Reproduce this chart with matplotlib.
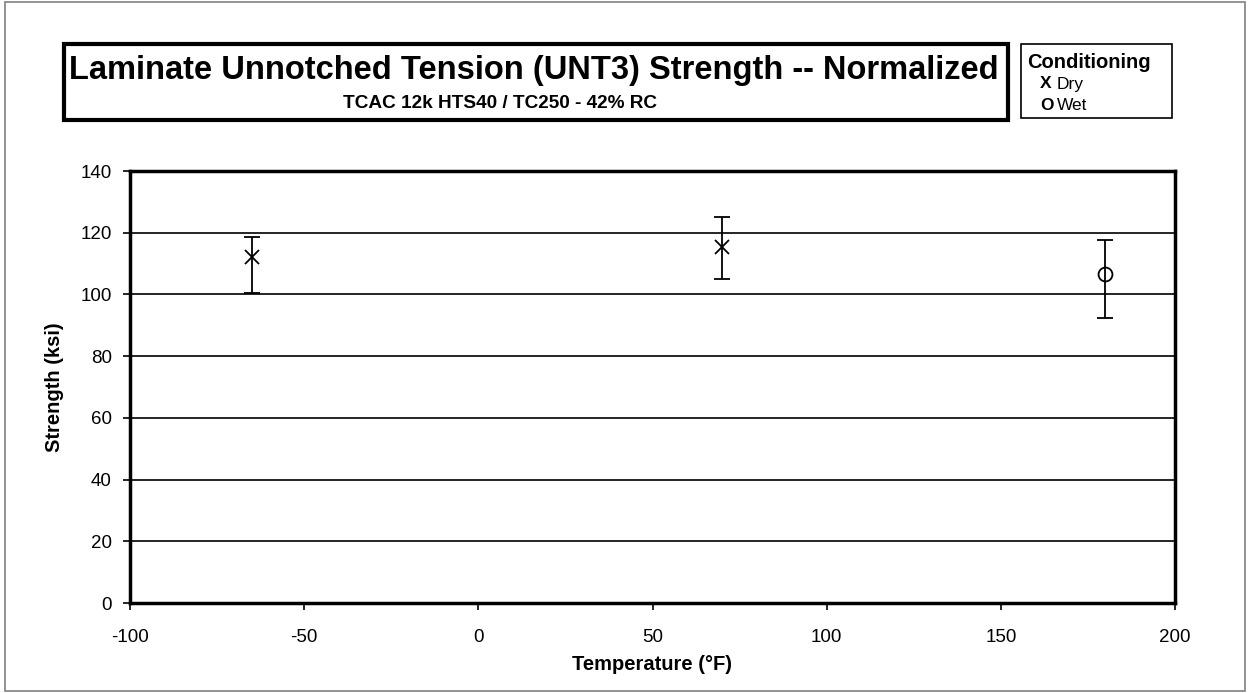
import matplotlib
matplotlib.use("Agg")
import matplotlib.pyplot as plt
from matplotlib.patches import Rectangle

plt.rcParams['font.family'] = ['Liberation Sans', 'DejaVu Sans']

# Data
dry_temp = [-65, 70]
dry_mean = [112.2, 115.4]
dry_max = [118.7, 125.1]
dry_min = [100.5, 105.0]

wet_temp = [180]
wet_mean = [106.6]
wet_max = [117.6]
wet_min = [92.2]

x_ticks = [-100, -50, 0, 50, 100, 150, 200]
y_ticks = [0, 20, 40, 60, 80, 100, 120, 140]

title = "Laminate Unnotched Tension (UNT3) Strength -- Normalized"
subtitle = "TCAC 12k HTS40 / TC250 - 42% RC"

W, H = 1249, 693
fig = plt.figure(figsize=(W / 100, H / 100), dpi=100)

def fx(px):
    return px / W

def fy(py):
    return 1 - py / H

# outer border
fig.patches.append(Rectangle((fx(5), fy(691)), fx(1245) - fx(5), fy(2) - fy(691),
                             transform=fig.transFigure, fill=False, ec='#808080', lw=1.2))

ax = fig.add_axes([fx(130), fy(603), fx(1175) - fx(130), fy(171) - fy(603)])
ax.set_xlim(-100, 200)
ax.set_ylim(0, 140)
ax.set_xticks(x_ticks)
ax.set_yticks(y_ticks)
ax.set_xticklabels([str(v) for v in x_ticks], fontsize=13.5)
ax.set_yticklabels([str(v) for v in y_ticks], fontsize=13.5)
ax.tick_params(direction='out', length=5, width=1.2, colors='black')
ax.tick_params(axis='x', pad=14)
ax.tick_params(axis='y', pad=8)
for s in ax.spines.values():
    s.set_linewidth(2.5)
    s.set_color('black')
ax.yaxis.grid(True, color='black', lw=1.2)
ax.set_axisbelow(True)

def errs(mean, lo, hi):
    return [[m - l for m, l in zip(mean, lo)], [h - m for m, h in zip(mean, hi)]]

ax.errorbar(dry_temp, dry_mean, yerr=errs(dry_mean, dry_min, dry_max), fmt='x',
            color='black', ms=10, mew=1.3, ecolor='black', elinewidth=1.3, capsize=6, capthick=1.3)
ax.errorbar(wet_temp, wet_mean, yerr=errs(wet_mean, wet_min, wet_max), fmt='o',
            mfc='none', mec='black', color='black', ms=10, mew=1.3, ecolor='black',
            elinewidth=1.3, capsize=6, capthick=1.3)

ax.set_xlabel("Temperature (°F)", fontsize=14.5, fontweight='bold', labelpad=6)
ax.set_ylabel("Strength (ksi)", fontsize=14.5, fontweight='bold', labelpad=12)

# title box
fig.patches.append(Rectangle((fx(64), fy(120)), fx(1008) - fx(64), fy(44) - fy(120),
                             transform=fig.transFigure, fill=False, ec='black', lw=3))
fig.text(fx(534), fy(70), title, fontsize=23.5, fontweight='bold', ha='center', va='center')
fig.text(fx(500), fy(103), subtitle, fontsize=13.7, fontweight='bold', ha='center', va='center')

# legend box
fig.patches.append(Rectangle((fx(1021), fy(118)), fx(1172) - fx(1021), fy(44) - fy(118),
                             transform=fig.transFigure, fill=False, ec='black', lw=1.2))
fig.text(fx(1027), fy(62), "Conditioning", fontsize=14.5, fontweight='bold', ha='left', va='center')
fig.text(fx(1040), fy(84), "X", fontsize=12.5, fontweight='bold', ha='left', va='center')
fig.text(fx(1057), fy(84), "Dry", fontsize=12.5, ha='left', va='center')
fig.text(fx(1040), fy(105), "O", fontsize=12.5, fontweight='bold', ha='left', va='center')
fig.text(fx(1057), fy(105), "Wet", fontsize=12.5, ha='left', va='center')

fig.savefig("out.png", dpi=100)
